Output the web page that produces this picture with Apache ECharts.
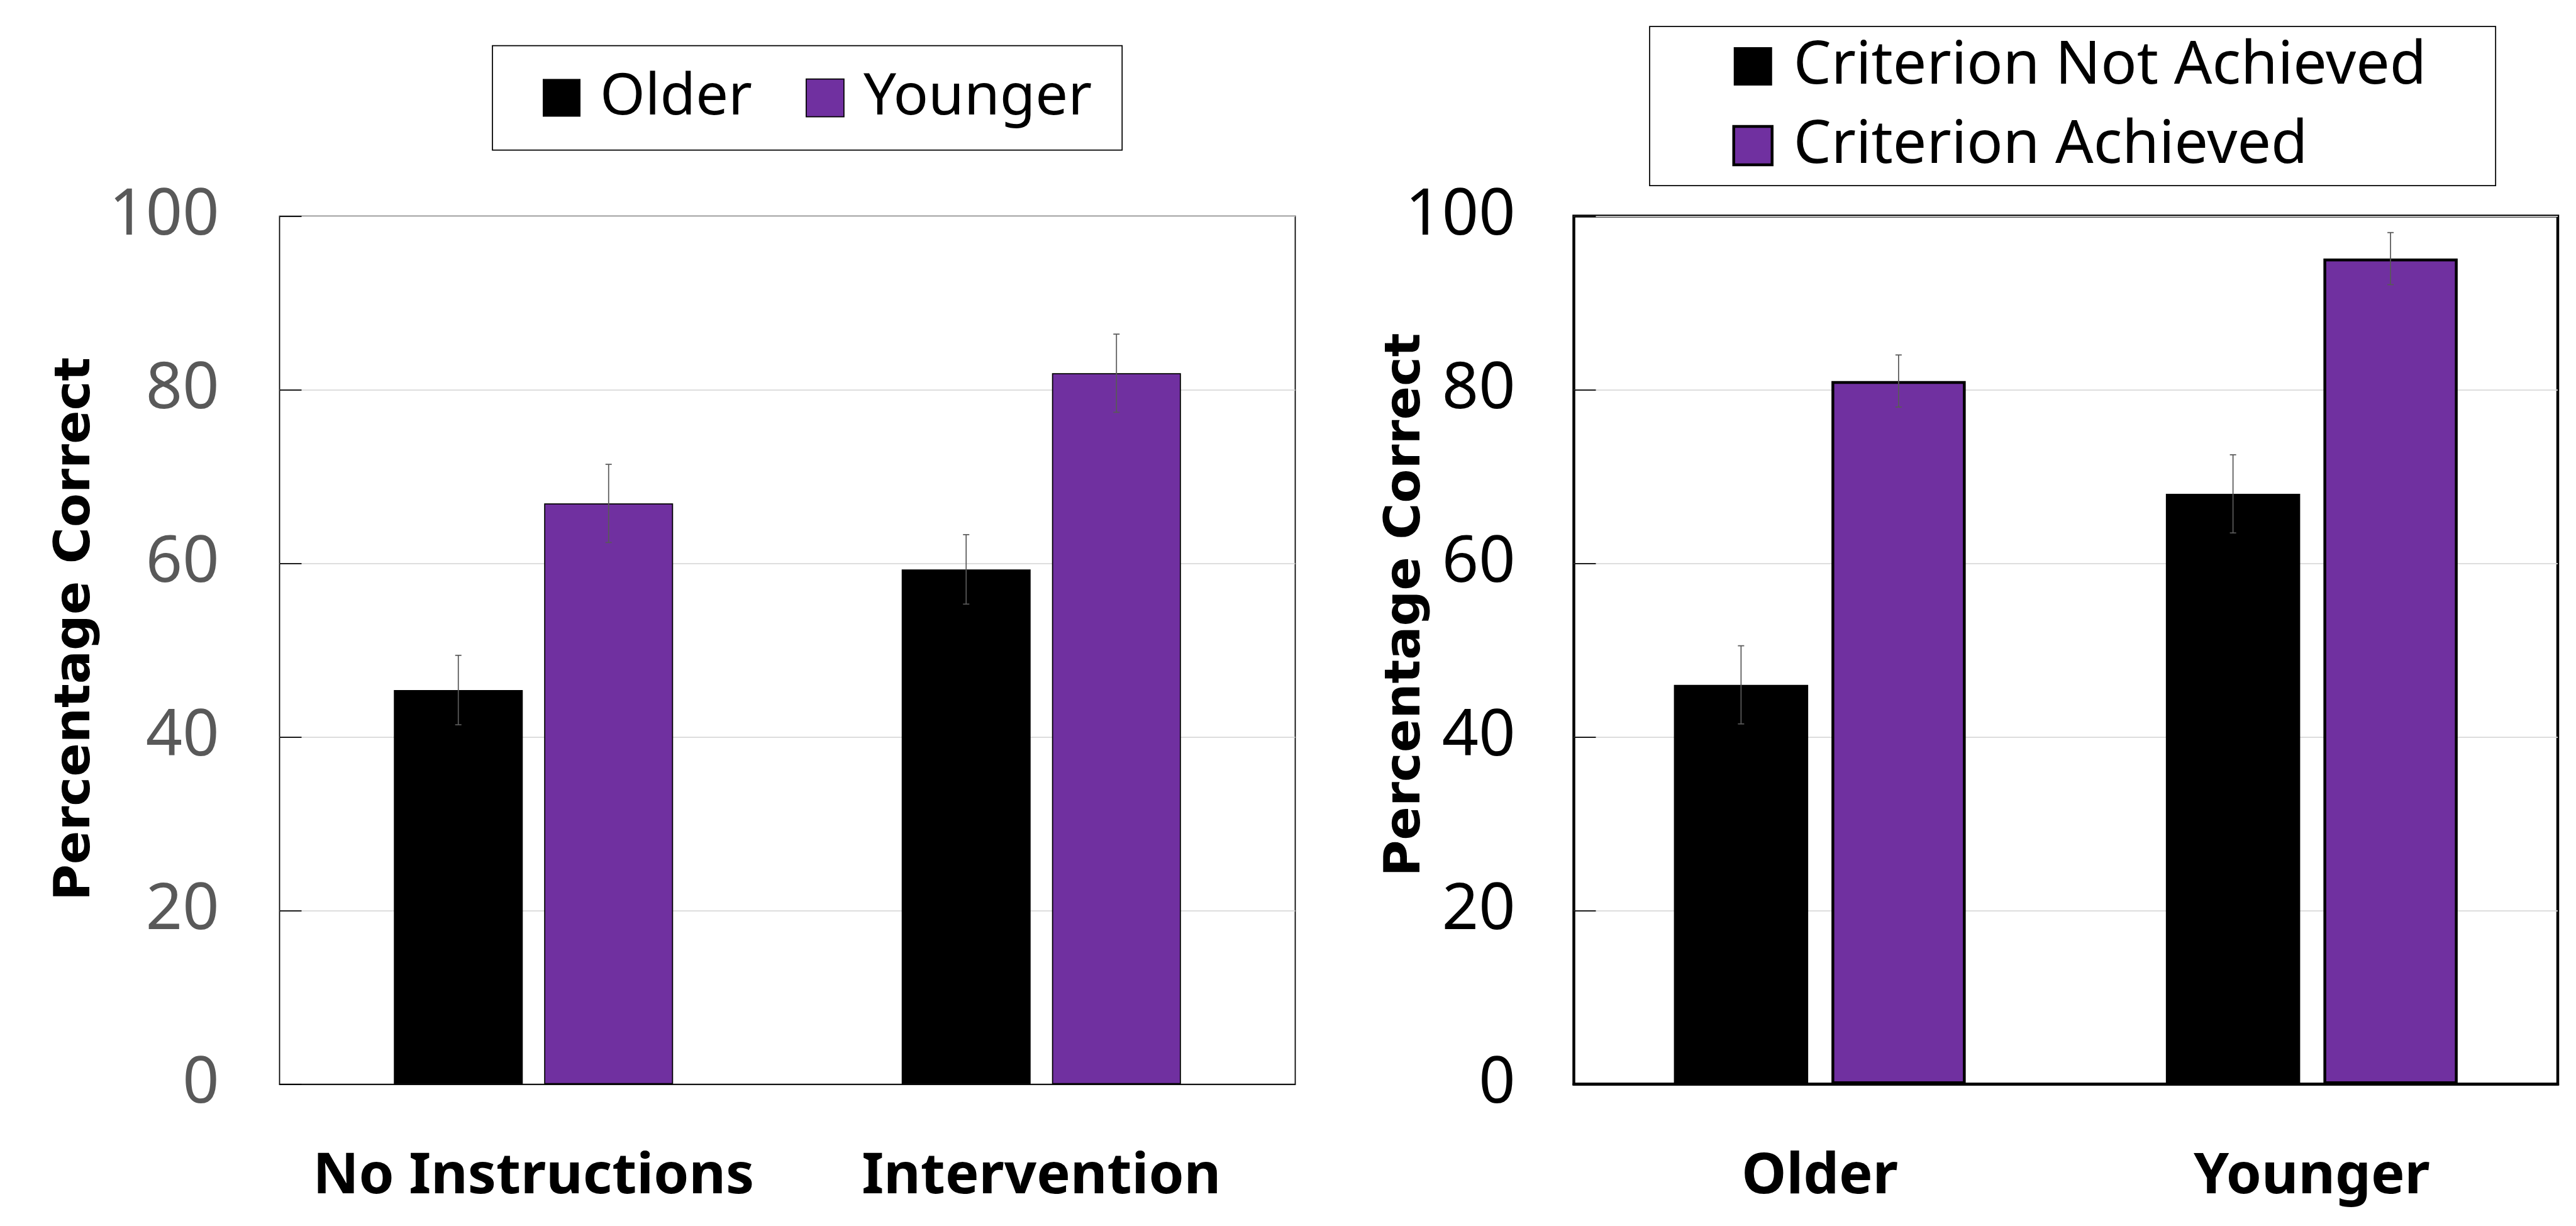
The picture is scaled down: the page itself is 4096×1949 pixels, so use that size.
<!DOCTYPE html>
<html>
<head>
<meta charset="utf-8">
<title>Percentage Correct</title>
<script src="https://cdn.jsdelivr.net/npm/echarts@6/dist/echarts.min.js"></script>
<style>
  html, body { margin: 0; padding: 0; background: #ffffff; }
  #chart { width: 4096px; height: 1949px; }
</style>
</head>
<body>
<div id="chart"></div>
<script>
// Panel A: instruction condition by age group
const conditionCategories = ['No Instructions', 'Intervention'];
const olderPct = [45.4, 59.3];
const olderErr = [4.0, 4.0];
const youngerPct = [66.9, 81.9];
const youngerErr = [4.5, 4.5];

// Panel B: age group by criterion status
const ageCategories = ['Older', 'Younger'];
const notAchievedPct = [46.0, 68.0];
const notAchievedErr = [4.5, 4.5];
const achievedPct = [81.0, 95.1];
const achievedErr = [3.0, 3.0];

// Shared value axis
const yMin = 0;
const yMax = 100;
const yStep = 20;

const PURPLE = '#7030A0';
const ERR_COLOR = '#595959';
const SANS = '"Noto Sans", "Open Sans", sans-serif';

// bar geometry (px)
const leftBarW = 205, leftGapPx = 34;
const rightBarW = 213.5, rightGapPx = 37;

function errorSeries(name, gridIdx, values, errs, offset) {
  return {
    name: name,
    type: 'custom',
    xAxisIndex: gridIdx,
    yAxisIndex: gridIdx,
    z: 5,
    silent: true,
    data: values.map((v, i) => [i, v, errs[i]]),
    renderItem: function (params, api) {
      const i = api.value(0), v = api.value(1), e = api.value(2);
      const hi = api.coord([i, v + e]);
      const lo = api.coord([i, v - e]);
      const x = hi[0] + offset;
      const cap = 5;
      const st = { stroke: ERR_COLOR, lineWidth: 1.75 };
      return {
        type: 'group',
        children: [
          { type: 'line', shape: { x1: x, y1: hi[1], x2: x, y2: lo[1] }, style: st },
          { type: 'line', shape: { x1: x - cap, y1: hi[1], x2: x + cap, y2: hi[1] }, style: st },
          { type: 'line', shape: { x1: x - cap, y1: lo[1], x2: x + cap, y2: lo[1] }, style: st }
        ]
      };
    }
  };
}

function valueAxis(gridIdx, labelColor, labelMargin) {
  return {
    type: 'value',
    gridIndex: gridIdx,
    min: yMin, max: yMax, interval: yStep,
    axisLine: { show: false },
    axisTick: { show: true, inside: true, length: 35, lineStyle: { color: '#000', width: 1.75 } },
    axisLabel: { color: labelColor, fontFamily: SANS, fontSize: 102, margin: labelMargin },
    splitLine: { show: true, lineStyle: { color: '#d9d9d9', width: 1.75 } }
  };
}

function categoryAxis(gridIdx, cats, lineW) {
  return {
    type: 'category',
    gridIndex: gridIdx,
    data: cats,
    axisLine: { show: true, lineStyle: { color: '#000', width: lineW } },
    axisTick: { show: false },
    axisLabel: {
      interval: 0, color: '#000', fontFamily: SANS, fontWeight: 'bold',
      fontSize: 90, margin: 103, lineHeight: 90
    }
  };
}

const chart = echarts.init(document.getElementById('chart'), null, { renderer: 'canvas' });

chart.setOption({
  animation: false,
  backgroundColor: '#ffffff',
  grid: [
    { left: 444.5, top: 343.5, width: 1615, height: 1380, show: true, borderColor: '#000', borderWidth: 1.75 },
    { left: 2502.5, top: 343.5, width: 1564.5, height: 1380, show: true, borderColor: '#000', borderWidth: 4.5 }
  ],
  xAxis: [
    categoryAxis(0, conditionCategories, 1.75),
    categoryAxis(1, ageCategories, 4.5)
  ],
  yAxis: [
    valueAxis(0, '#595959', 96),
    valueAxis(1, '#000000', 93)
  ],
  legend: [
    {
      data: [
        { name: 'Older', itemStyle: { color: '#000', borderWidth: 0 } },
        { name: 'Younger', itemStyle: { color: PURPLE, borderColor: '#000', borderWidth: 1.75 } }
      ],
      orient: 'horizontal',
      left: 783, top: 72.6,
      icon: 'rect',
      itemWidth: 60, itemHeight: 60, itemGap: 85,
      padding: [37, 48, 37, 80],
      borderColor: '#000', borderWidth: 1.75,
      selectedMode: false,
      textStyle: { color: '#000', fontFamily: SANS, fontSize: 92, padding: [0, 0, 0, 26] }
    },
    {
      data: [
        { name: 'Criterion Not Achieved', itemStyle: { color: '#000', borderWidth: 0 } },
        { name: 'Criterion Achieved', itemStyle: { color: PURPLE, borderColor: '#000', borderWidth: 4.5 } }
      ],
      orient: 'vertical',
      left: 2623, top: 42,
      icon: 'rect',
      itemWidth: 61, itemHeight: 61, itemGap: 31,
      padding: [16, 110, 16, 131.5],
      borderColor: '#000', borderWidth: 1.75,
      selectedMode: false,
      textStyle: { color: '#000', fontFamily: SANS, fontSize: 95, padding: [0, 0, 0, 29] }
    }
  ],
  graphic: [
    {
      type: 'text', x: 121, y: 1000, rotation: Math.PI / 2,
      style: { text: 'Percentage Correct', font: 'bold 79px "DejaVu Sans"', fill: '#000', align: 'center', verticalAlign: 'middle' }
    },
    {
      type: 'text', x: 2236, y: 961.5, rotation: Math.PI / 2,
      style: { text: 'Percentage Correct', font: 'bold 79px "DejaVu Sans"', fill: '#000', align: 'center', verticalAlign: 'middle' }
    }
  ],
  series: [
    {
      name: 'Older', type: 'bar', xAxisIndex: 0, yAxisIndex: 0,
      data: olderPct, barWidth: leftBarW, barGap: (leftGapPx / leftBarW * 100) + '%',
      itemStyle: { color: '#000', borderColor: '#000', borderWidth: 1.75 }
    },
    {
      name: 'Younger', type: 'bar', xAxisIndex: 0, yAxisIndex: 0,
      data: youngerPct, barWidth: leftBarW, barGap: (leftGapPx / leftBarW * 100) + '%',
      itemStyle: { color: PURPLE, borderColor: '#000', borderWidth: 1.75 }
    },
    {
      name: 'Criterion Not Achieved', type: 'bar', xAxisIndex: 1, yAxisIndex: 1,
      data: notAchievedPct, barWidth: rightBarW, barGap: (rightGapPx / rightBarW * 100) + '%',
      itemStyle: { color: '#000', borderColor: '#000', borderWidth: 4.5 }
    },
    {
      name: 'Criterion Achieved', type: 'bar', xAxisIndex: 1, yAxisIndex: 1,
      data: achievedPct, barWidth: rightBarW, barGap: (rightGapPx / rightBarW * 100) + '%',
      itemStyle: { color: PURPLE, borderColor: '#000', borderWidth: 4.5 }
    },
    errorSeries('Older SE', 0, olderPct, olderErr, -(leftBarW + leftGapPx) / 2),
    errorSeries('Younger SE', 0, youngerPct, youngerErr, (leftBarW + leftGapPx) / 2),
    errorSeries('Not Achieved SE', 1, notAchievedPct, notAchievedErr, -(rightBarW + rightGapPx) / 2),
    errorSeries('Achieved SE', 1, achievedPct, achievedErr, (rightBarW + rightGapPx) / 2)
  ]
});
</script>
</body>
</html>
